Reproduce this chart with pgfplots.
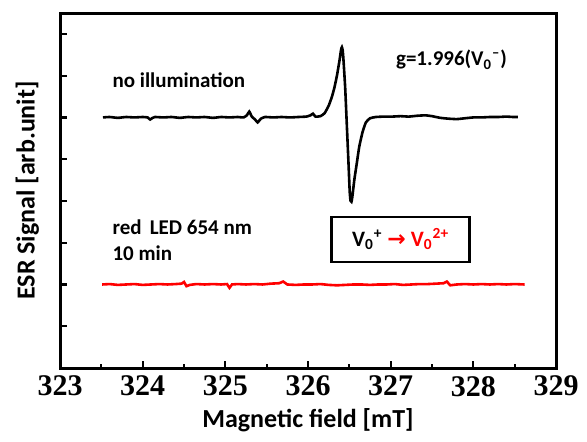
\documentclass[border=0pt]{standalone}
\usepackage{pgfplots}
\pgfplotsset{compat=1.18}
\usepackage{fontspec}
\setmainfont{Carlito}
\newfontfamily\tnr{Liberation Serif}
\newfontfamily\dejavu{DejaVu Sans}
\begin{document}
\begin{tikzpicture}
\path[use as bounding box] (-30pt,-36.5pt) rectangle (263.5pt,184pt);
\begin{axis}[
  at={(0,0)}, anchor=south west,
  scale only axis, width=248pt, height=177.5pt,
  xmin=323, xmax=329, ymin=0, ymax=8.5,
  axis line style={line width=1.5pt},
  xtick={323,...,329}, minor xtick={323.5,324.5,...,328.5},
  ytick={1,...,8}, yticklabels={},
  xtick pos=bottom, ytick pos=left,
  tick align=inside,
  major tick length=3.5pt, minor tick length=2pt,
  tick style={line width=1.1pt, black},
  /pgf/number format/assume math mode=true,
  /pgf/number format/1000 sep={},
  xticklabel style={font=\tnr\bfseries\fontsize{15}{16}\selectfont, yshift=-0.5pt},
  xlabel={Magnetic field [mT]},
  ylabel={ESR Signal [arb.unit]},
  every axis x label/.style={at={(axis description cs:0.5,-0.146)}, anchor=center, font=\bfseries\fontsize{13}{14}\selectfont},
  every axis y label/.style={at={(axis description cs:-0.066,0.5)}, rotate=90, anchor=center, font=\bfseries\fontsize{13}{14}\selectfont},
  clip=false,
]
\addplot[black, line width=1.3pt, smooth, tension=0.3] coordinates {
(323.52,6.00) (323.60,6.01) (323.70,5.99) (323.80,6.01) (323.90,6.00) (324.00,6.01)
(324.06,6.00) (324.09,5.95) (324.12,5.99) (324.15,6.01) (324.25,6.00) (324.35,6.01)
(324.45,5.99) (324.55,6.01) (324.65,6.00) (324.75,6.01) (324.85,5.99) (324.95,6.01)
(325.05,6.00) (325.15,6.01) (325.22,6.00) (325.26,6.05) (325.29,6.14) (325.32,6.02)
(325.36,5.95) (325.39,5.88) (325.43,5.97) (325.48,6.01) (325.58,6.00) (325.68,6.01)
(325.78,6.00) (325.88,6.01) (325.98,6.02) (326.03,6.05) (326.06,6.09) (326.09,6.02)
(326.15,6.03) (326.20,6.10) (326.25,6.28) (326.29,6.50) (326.32,6.72) (326.35,7.00)
(326.38,7.35) (326.40,7.62) (326.41,7.68) (326.42,7.60) (326.43,7.35) (326.45,6.70) (326.47,5.80) (326.49,4.90)
(326.505,4.20) (326.515,4.00) (326.525,3.98) (326.535,4.08) (326.56,4.50) (326.59,4.90) (326.62,5.30)
(326.66,5.65) (326.70,5.88) (326.75,5.98) (326.82,6.01) (326.92,6.02) (327.02,6.02)
(327.12,6.03) (327.22,6.02) (327.32,6.04) (327.42,6.05) (327.50,6.03) (327.60,5.99)
(327.70,5.97) (327.80,5.96) (327.90,5.98) (328.00,6.00) (328.10,6.00) (328.20,6.01)
(328.30,6.01) (328.40,6.02) (328.48,6.01) (328.54,6.01)
};
\addplot[red, line width=1.3pt] coordinates {
(323.51,2.00) (323.60,2.01) (323.70,1.99) (323.80,2.00) (323.90,2.01) (324.00,1.99)
(324.10,2.00) (324.20,2.01) (324.30,2.00) (324.40,2.01) (324.47,2.02) (324.50,2.06)
(324.53,1.96) (324.57,1.99) (324.65,2.01) (324.75,2.00) (324.85,2.01) (324.95,2.00)
(325.02,2.01) (325.05,1.92) (325.08,2.00) (325.15,2.01) (325.25,2.00) (325.35,2.01)
(325.45,2.00) (325.55,2.02) (325.65,2.03) (325.70,2.07) (325.75,2.00) (325.85,1.99)
(325.95,2.00) (326.05,2.00) (326.15,2.01) (326.25,1.99) (326.35,1.98) (326.45,1.99)
(326.55,2.00) (326.65,2.00) (326.75,1.99) (326.85,2.00) (326.95,2.00) (327.05,2.01)
(327.15,1.99) (327.25,2.00) (327.35,2.01) (327.45,2.01) (327.55,2.02) (327.64,2.03)
(327.68,2.07) (327.72,1.98) (327.80,2.00) (327.90,2.01) (328.00,2.00) (328.10,2.01)
(328.20,2.00) (328.30,2.01) (328.40,2.00) (328.50,2.01) (328.62,2.00)
};
\node[anchor=west, font=\bfseries\fontsize{10.5}{12}\selectfont] at (axis cs:323.55,6.9) {no illumination};
\node[anchor=west, font=\bfseries\fontsize{10.5}{12}\selectfont] at (axis cs:326.98,7.38) {g=1.996(V\textsubscript{0}\textsuperscript{--})};
\node[anchor=west, font=\bfseries\fontsize{10.5}{13}\selectfont, align=left] at (axis cs:323.55,3.07) {red\, LED 654 nm\\10 min};
\node[draw, line width=1.2pt, minimum width=69pt, minimum height=22.5pt, inner sep=1pt, font=\bfseries\fontsize{11}{12}\selectfont] at (axis cs:327.12,3.08) {V\textsubscript{0}\textsuperscript{+} {\color{red}{\dejavu\bfseries →} V\textsubscript{0}\textsuperscript{2+}}};
\end{axis}
\end{tikzpicture}
\end{document}
